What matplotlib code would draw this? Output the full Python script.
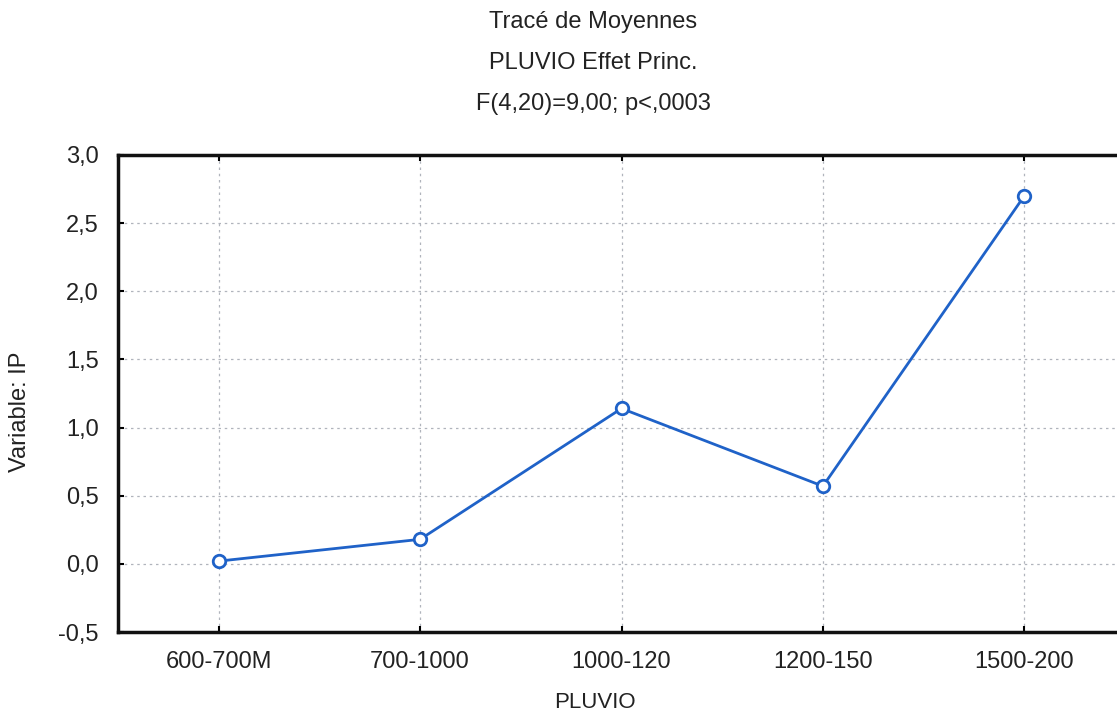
import matplotlib
matplotlib.use("Agg")
import matplotlib.pyplot as plt

categories = ["600-700M", "700-1000", "1000-120", "1200-150", "1500-200"]
means = [0.02, 0.18, 1.14, 0.57, 2.70]
yticks = [-0.5, 0.0, 0.5, 1.0, 1.5, 2.0, 2.5, 3.0]
ytick_labels = ["-0,5", "0,0", "0,5", "1,0", "1,5", "2,0", "2,5", "3,0"]
title_lines = ["Tracé de Moyennes", "PLUVIO Effet Princ.", "F(4,20)=9,00; p<,0003"]

plt.rcParams['font.family'] = ['Liberation Sans', 'DejaVu Sans']

W, H = 1117, 713
fig = plt.figure(figsize=(W / 100, H / 100), dpi=100)
ax = fig.add_axes([118 / W, 1 - 632 / H, (1125 - 118) / W, (632 - 155) / H])
ax.set_facecolor("white")

x = list(range(len(categories)))
ax.plot(x, means, color="#1f62c8", lw=2, marker="o", ms=9,
        mfc="white", mec="#1f62c8", mew=2, zorder=3)

ax.set_xlim(-0.5, 4.5)
ax.set_ylim(-0.5, 3.0)
ax.set_xticks(x)
ax.set_xticklabels(categories, fontsize=17, color="#222222")
ax.set_yticks(yticks)
ax.set_yticklabels(ytick_labels, fontsize=17, color="#222222")
ax.grid(True, color="#b0b4bc", ls=(0, (2, 3)), lw=0.9)
ax.set_axisbelow(True)
for s in ax.spines.values():
    s.set_linewidth(2.5)
    s.set_color("#111111")
ax.tick_params(axis="x", direction="in", length=4, width=1.5, pad=14, top=True)
ax.tick_params(axis="y", direction="in", length=4, width=1.5, pad=14, right=False)

fig.text(20 / W, 1 - 412 / H, "Variable: IP", rotation=90, ha="center", va="center",
         fontsize=17, color="#222222")
fig.text(595 / W, 1 - 702 / H, "PLUVIO", ha="center", va="center",
         fontsize=16, color="#222222")

for i, t in enumerate(title_lines):
    fig.text(593 / W, 1 - (22 + 41 * i) / H, t, ha="center", va="center",
             fontsize=17, color="#222222")

fig.savefig("out.png", dpi=100)
